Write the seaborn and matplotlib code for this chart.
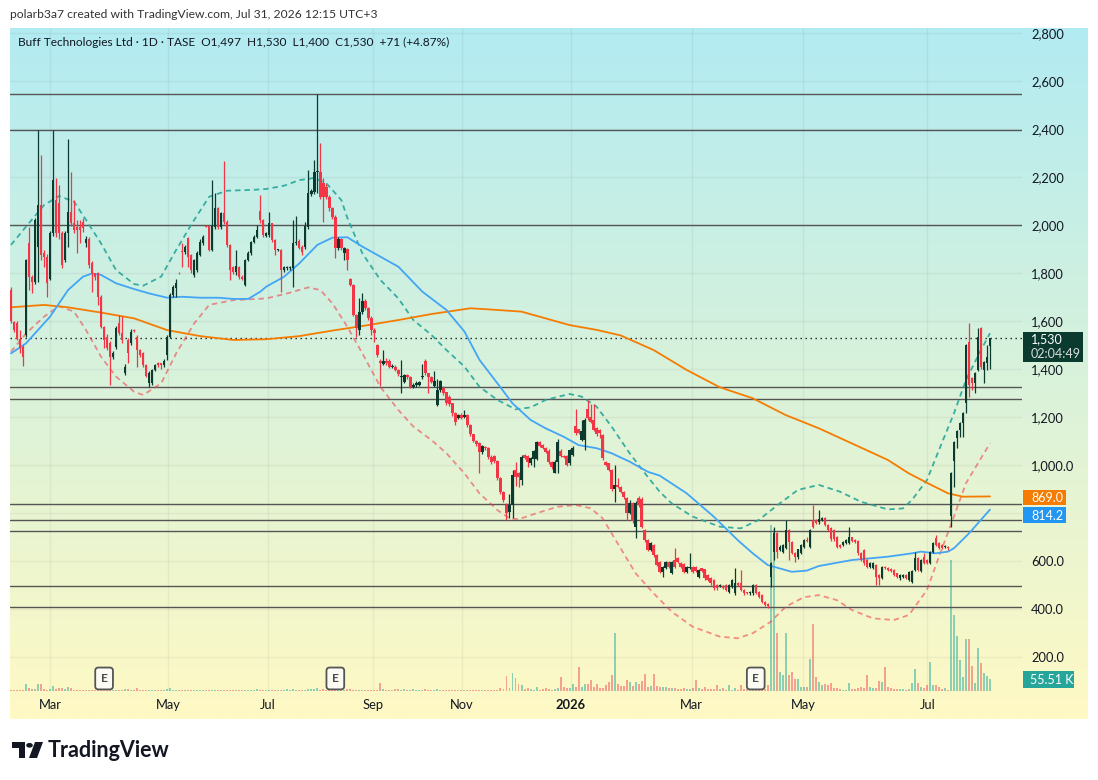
import numpy as np
import matplotlib
matplotlib.use("Agg")
import matplotlib.pyplot as plt
import seaborn as sns
from matplotlib.patches import Rectangle, Circle, Polygon
from matplotlib.transforms import blended_transform_factory

# daily candles, Buff Technologies Ltd (TASE), Feb 2025 - Jul 2026
open_px = [
    1729, 1597, 1590, 1527, 1493, 1541, 1923, 1784, 1764, 1909,
    2083, 1882, 1868, 1777, 1965, 2104, 2090, 1965, 1854, 1965,
    2055, 2007, 1993, 1993, 2014, 1923, 1941, 1840, 1798, 1798,
    1701, 1576, 1535, 1507, 1451, 1493, 1590, 1548, 1382, 1521,
    1507, 1562, 1535, 1479, 1465, 1416, 1343, 1343, 1396, 1423,
    1423, 1416, 1458, 1535, 1708, 1736, 1801, 1891, 1889, 1944,
    1875, 1791, 1812, 1875, 1923, 1996, 1996, 1896, 1993, 2069,
    1990, 2048, 2014, 1917, 1826, 1805, 1826, 1784, 1750, 1854,
    1882, 1930, 1951, 2058, 2020, 1955, 1958, 2007, 1937, 1894,
    1896, 1812, 1819, 1819, 1819, 1923, 1933, 1909, 1909, 1993,
    2129, 2139, 2222, 2222, 2173, 2160, 2118, 2069, 2034, 1903,
    1940, 1882, 1898, 1773, 1750, 1625, 1563, 1639, 1683, 1653,
    1614, 1563, 1500, 1433, 1420, 1433, 1433, 1410, 1410, 1396,
    1368, 1344, 1375, 1368, 1326, 1333, 1333, 1368, 1433, 1382,
    1368, 1331, 1250, 1312, 1322, 1303, 1285, 1257, 1215, 1197,
    1208, 1201, 1208, 1167, 1128, 1101, 1090, 1053, 1073, 1072,
    1035, 1039, 1018, 945, 886, 833, 806, 833, 979, 965,
    938, 1042, 1039, 1007, 1025, 1025, 1095, 1083, 1070, 1060,
    1014, 968, 1011, 1060, 1039, 1039, 1007, 1042, 1164, 1149,
    1104, 1104, 1233, 1201, 1188, 1153, 1146, 1125, 1014, 1007,
    979, 899, 917, 910, 889, 861, 799, 840, 743, 861,
    857, 729, 687, 646, 667, 625, 597, 555, 569, 597,
    549, 604, 611, 590, 586, 555, 569, 576, 576, 535,
    569, 565, 542, 528, 521, 500, 496, 496, 500, 472,
    493, 465, 510, 510, 479, 468, 465, 465, 500, 472,
    458, 430, 421, 535, 636, 715, 646, 639, 653, 729,
    680, 632, 615, 634, 660, 688, 660, 771, 771, 761,
    771, 778, 750, 736, 729, 701, 667, 667, 674, 676,
    698, 687, 685, 632, 646, 604, 576, 569, 583, 541,
    528, 576, 569, 565, 562, 548, 528, 532, 541, 521,
    514, 562, 611, 560, 618, 604, 590, 639, 694, 674,
    667, 657, 660, 787, 1018, 1111, 1146, 1174, 1257, 1514,
    1361, 1340, 1396, 1570, 1396, 1424, 1497,
]
high_px = [
    1740, 1600, 1600, 1562, 1500, 1860, 1993, 1790, 2030, 2395,
    2291, 1895, 1880, 1975, 2395, 2194, 2166, 1975, 1975, 2357,
    2222, 2104, 2020, 2020, 2030, 1955, 1950, 1850, 1800, 1805,
    1710, 1580, 1545, 1515, 1475, 1580, 1625, 1622, 1420, 1530,
    1565, 1565, 1540, 1485, 1470, 1420, 1390, 1400, 1420, 1430,
    1425, 1440, 1540, 1715, 1750, 1777, 1805, 1923, 1915, 1950,
    1880, 1860, 1890, 1940, 1960, 2000, 2000, 2187, 2132, 2075,
    2055, 2267, 2020, 1920, 1830, 1895, 1830, 1790, 1860, 1890,
    1935, 1958, 2000, 2125, 2025, 1970, 2055, 2010, 1940, 1900,
    1900, 1830, 1830, 1830, 2020, 2037, 1940, 1915, 2014, 2229,
    2150, 2271, 2545, 2340, 2194, 2170, 2125, 2075, 2040, 1950,
    1945, 1910, 1905, 1780, 1755, 1630, 1695, 1718, 1690, 1660,
    1620, 1570, 1504, 1440, 1479, 1445, 1440, 1420, 1415, 1400,
    1438, 1380, 1380, 1372, 1340, 1348, 1350, 1420, 1440, 1385,
    1372, 1392, 1360, 1355, 1330, 1305, 1290, 1260, 1220, 1212,
    1215, 1229, 1212, 1170, 1130, 1105, 1095, 1085, 1080, 1075,
    1040, 1042, 1022, 950, 890, 840, 878, 979, 1014, 970,
    1040, 1045, 1042, 1032, 1062, 1100, 1100, 1087, 1075, 1065,
    1018, 1020, 1107, 1065, 1042, 1042, 1066, 1080, 1232, 1152,
    1188, 1195, 1271, 1253, 1253, 1157, 1150, 1128, 1018, 1010,
    982, 999, 947, 913, 893, 865, 854, 845, 850, 870,
    868, 735, 692, 680, 672, 630, 600, 580, 600, 600,
    602, 653, 615, 595, 590, 580, 632, 580, 580, 566,
    572, 568, 545, 532, 525, 505, 505, 500, 505, 505,
    525, 569, 513, 563, 483, 472, 476, 505, 504, 476,
    462, 434, 425, 596, 743, 720, 665, 672, 771, 733,
    684, 636, 652, 672, 692, 701, 734, 833, 775, 812,
    782, 785, 754, 740, 733, 705, 671, 685, 692, 743,
    702, 690, 688, 636, 650, 608, 594, 597, 587, 545,
    580, 580, 573, 569, 566, 552, 545, 545, 545, 560,
    562, 639, 615, 608, 632, 608, 643, 678, 709, 678,
    671, 668, 664, 970, 1100, 1146, 1178, 1220, 1505, 1590,
    1365, 1386, 1570, 1577, 1434, 1500, 1530,
]
low_px = [
    1590, 1555, 1520, 1465, 1412, 1535, 1729, 1715, 1755, 1764,
    1854, 1826, 1701, 1770, 1955, 1950, 1940, 1819, 1845, 1909,
    1995, 1965, 1882, 1923, 1970, 1910, 1820, 1722, 1770, 1666,
    1569, 1486, 1480, 1333, 1440, 1485, 1540, 1510, 1375, 1423,
    1500, 1555, 1409, 1450, 1410, 1365, 1326, 1335, 1390, 1410,
    1402, 1410, 1437, 1530, 1700, 1701, 1795, 1826, 1880, 1826,
    1798, 1785, 1805, 1870, 1915, 1990, 1890, 1890, 1985, 1985,
    1985, 2005, 1910, 1770, 1795, 1791, 1775, 1770, 1745, 1850,
    1875, 1925, 1945, 2010, 1950, 1950, 1950, 1930, 1875, 1890,
    1722, 1805, 1812, 1812, 1743, 1915, 1900, 1875, 1900, 1985,
    2120, 2130, 2135, 2110, 2014, 2110, 2060, 2025, 1861, 1895,
    1895, 1854, 1812, 1745, 1620, 1535, 1542, 1630, 1645, 1605,
    1542, 1514, 1450, 1331, 1415, 1418, 1405, 1405, 1390, 1370,
    1299, 1340, 1360, 1320, 1320, 1326, 1328, 1360, 1375, 1299,
    1340, 1325, 1245, 1305, 1292, 1250, 1245, 1205, 1167, 1190,
    1190, 1195, 1160, 1120, 1095, 1080, 965, 1045, 1062, 1025,
    1005, 1010, 938, 880, 845, 771, 780, 780, 914, 910,
    917, 1025, 993, 1000, 990, 1020, 1075, 1065, 1050, 1005,
    985, 965, 965, 1035, 1028, 995, 1000, 1038, 1125, 1128,
    1100, 1063, 1188, 1175, 1140, 1122, 1111, 1022, 995, 975,
    893, 847, 905, 885, 860, 771, 795, 760, 694, 825,
    738, 680, 640, 640, 618, 578, 548, 535, 565, 570,
    545, 570, 590, 570, 550, 550, 565, 550, 555, 530,
    555, 522, 515, 502, 480, 480, 492, 485, 474, 467,
    488, 460, 495, 474, 460, 462, 460, 460, 463, 447,
    425, 412, 406, 493, 604, 611, 640, 635, 648, 604,
    628, 597, 610, 630, 655, 680, 655, 738, 755, 756,
    767, 745, 724, 685, 685, 655, 655, 662, 670, 672,
    680, 676, 627, 600, 585, 571, 571, 565, 500, 500,
    524, 565, 558, 556, 537, 530, 521, 528, 524, 517,
    510, 558, 558, 556, 586, 586, 586, 635, 662, 649,
    649, 653, 645, 743, 907, 1069, 1118, 1118, 1215, 1285,
    1312, 1299, 1390, 1400, 1340, 1396, 1400,
]
close_px = [
    1600, 1562, 1527, 1486, 1451, 1854, 1784, 1764, 2020, 2083,
    1875, 1868, 1757, 1965, 2187, 1965, 1965, 1833, 1965, 2055,
    2007, 1979, 1979, 1979, 1986, 1941, 1833, 1798, 1784, 1701,
    1576, 1521, 1486, 1451, 1465, 1569, 1548, 1521, 1409, 1465,
    1555, 1559, 1479, 1458, 1416, 1371, 1385, 1396, 1416, 1416,
    1416, 1434, 1535, 1708, 1743, 1757, 1798, 1889, 1909, 1868,
    1812, 1854, 1882, 1930, 1951, 1993, 1896, 1996, 2069, 1993,
    2048, 2014, 1917, 1812, 1805, 1829, 1784, 1777, 1854, 1882,
    1930, 1951, 1979, 2020, 1958, 1965, 2007, 1937, 1896, 1896,
    1812, 1826, 1826, 1826, 1927, 1929, 1905, 1889, 1997, 2132,
    2142, 2222, 2226, 2118, 2118, 2118, 2069, 2034, 1903, 1941,
    1903, 1903, 1854, 1750, 1625, 1569, 1639, 1683, 1653, 1614,
    1563, 1549, 1458, 1424, 1433, 1424, 1410, 1413, 1396, 1378,
    1371, 1375, 1368, 1326, 1333, 1340, 1344, 1371, 1382, 1368,
    1345, 1350, 1312, 1350, 1299, 1257, 1253, 1215, 1178, 1208,
    1197, 1208, 1167, 1128, 1101, 1087, 1053, 1080, 1069, 1035,
    1011, 1018, 945, 886, 854, 799, 833, 958, 951, 951,
    1032, 1031, 1011, 1028, 1058, 1097, 1081, 1070, 1056, 1011,
    990, 1014, 1095, 1039, 1032, 1000, 1062, 1072, 1132, 1132,
    1143, 1188, 1194, 1181, 1146, 1128, 1132, 1028, 1000, 979,
    899, 917, 910, 889, 865, 799, 840, 767, 843, 833,
    743, 687, 646, 674, 625, 583, 555, 576, 597, 576,
    597, 576, 597, 576, 555, 576, 576, 555, 560, 562,
    560, 528, 521, 507, 486, 486, 500, 489, 479, 500,
    521, 510, 500, 479, 465, 465, 472, 500, 468, 451,
    430, 417, 412, 590, 718, 639, 660, 667, 729, 680,
    632, 615, 648, 667, 687, 685, 729, 743, 760, 775,
    778, 750, 729, 690, 690, 660, 660, 681, 687, 698,
    685, 681, 632, 604, 590, 576, 590, 593, 535, 528,
    576, 569, 562, 560, 541, 535, 541, 541, 528, 555,
    558, 611, 562, 604, 590, 590, 639, 674, 667, 653,
    653, 664, 653, 965, 1097, 1142, 1174, 1215, 1500, 1333,
    1341, 1382, 1535, 1410, 1430, 1451, 1530,
]
# volume, thousands of shares
volume_k = [
    3, 3, 3, 3, 3, 31, 15, 8, 9, 31,
    31, 8, 3, 8, 22, 9, 12, 12, 8, 20,
    12, 5, 3, 3, 3, 3, 3, 3, 3, 3,
    6, 3, 3, 4, 3, 3, 3, 3, 11, 8,
    3, 3, 15, 6, 3, 6, 3, 5, 3, 3,
    3, 3, 9, 15, 3, 6, 3, 3, 3, 4,
    3, 3, 3, 3, 4, 3, 3, 3, 3, 3,
    3, 3, 4, 3, 3, 3, 3, 3, 3, 3,
    3, 3, 9, 6, 3, 3, 3, 3, 3, 3,
    3, 3, 8, 3, 9, 3, 3, 3, 3, 8,
    8, 8, 15, 3, 8, 3, 3, 3, 3, 3,
    3, 3, 8, 8, 3, 3, 3, 3, 3, 3,
    3, 3, 3, 35, 11, 6, 3, 3, 8, 8,
    3, 9, 3, 3, 9, 3, 6, 5, 8, 5,
    6, 5, 7, 5, 3, 3, 3, 3, 3, 3,
    3, 3, 3, 3, 3, 3, 3, 3, 3, 3,
    3, 3, 3, 15, 10, 69, 15, 85, 62, 31,
    28, 8, 12, 9, 4, 18, 5, 10, 12, 11,
    5, 8, 13, 64, 19, 13, 13, 32, 19, 112,
    19, 32, 32, 51, 19, 32, 13, 13, 26, 42,
    75, 267, 32, 22, 22, 51, 42, 22, 42, 32,
    48, 80, 19, 22, 80, 22, 19, 19, 19, 13,
    13, 16, 8, 8, 16, 8, 8, 16, 51, 16,
    8, 19, 8, 8, 8, 26, 8, 16, 5, 26,
    5, 16, 5, 29, 8, 8, 8, 8, 8, 8,
    8, 8, 26, 770, 750, 268, 88, 72, 267, 72,
    88, 56, 56, 19, 19, 19, 147, 309, 64, 42,
    26, 32, 26, 35, 13, 13, 8, 5, 5, 35,
    8, 8, 13, 19, 16, 75, 19, 13, 13, 48,
    42, 109, 19, 13, 8, 8, 8, 8, 5, 8,
    35, 104, 35, 19, 13, 26, 133, 26, 26, 19,
    8, 13, 5, 607, 352, 255, 144, 65, 241, 241,
    117, 39, 199, 129, 85, 69, 55.51,
]

# moving averages / envelope (candle index, price)
ma_fast_idx = [0, 5, 13, 19, 24, 27, 30, 35, 41, 46, 52, 57, 63, 69, 74, 79, 83, 85, 91, 96,
               102, 107, 112, 117, 129, 137, 145, 151, 156, 162, 167, 173, 178, 184, 189, 195,
               200, 206, 212, 216, 225, 234, 242, 247, 252, 260, 265, 269, 280, 292, 300, 303,
               308, 312, 314, 319, 326]
ma_fast_val = [1465, 1507, 1618, 1729, 1785, 1798, 1792, 1757, 1733, 1715, 1697, 1701, 1697, 1697,
               1692, 1692, 1722, 1743, 1785, 1840, 1917, 1947, 1949, 1910, 1826, 1722, 1646, 1556,
               1438, 1340, 1257, 1188, 1153, 1118, 1083, 1070, 1049, 1014, 972, 956, 882, 785,
               687, 632, 583, 555, 560, 579, 604, 618, 632, 639, 632, 639, 653, 715, 814]
ma_slow_idx = [0, 11, 19, 30, 41, 52, 63, 74, 85, 96, 107, 117, 129, 140, 153, 162, 170, 178,
               186, 195, 203, 214, 225, 236, 247, 258, 269, 280, 292, 299, 305, 312, 317, 326]
ma_slow_val = [1657, 1667, 1657, 1635, 1611, 1562, 1537, 1521, 1524, 1537, 1560, 1579, 1604,
               1629, 1653, 1646, 1639, 1611, 1583, 1563, 1540, 1479, 1396, 1324, 1278, 1208,
               1153, 1090, 1021, 965, 926, 882, 868, 869]
band_idx_up = [0, 5, 11, 16, 21, 25, 30, 35, 41, 44, 50, 55, 61, 66, 72, 80, 85, 91, 96, 101,
               105, 110, 112, 117, 123, 129, 134, 140, 145, 151, 156, 162, 168, 173, 178, 186,
               190, 195, 200, 206, 212, 216, 220, 227, 236, 243, 249, 256, 262, 269, 276, 283,
               292, 297, 300, 305, 309, 314, 318, 323, 326]
band_upper = [1917, 1993, 2083, 2121, 2097, 2021, 1923, 1812, 1754, 1747, 1785, 1896, 2021, 2118,
              2143, 2146, 2150, 2164, 2187, 2196, 2174, 2104, 2030, 1882, 1771, 1694, 1604, 1542,
              1479, 1410, 1326, 1271, 1232, 1240, 1271, 1296, 1285, 1243, 1160, 1049, 951, 889,
              840, 785, 743, 736, 771, 840, 896, 917, 889, 847, 815, 819, 854, 937, 1062, 1215,
              1354, 1479, 1549]
band_idx_lo = [0, 5, 11, 16, 21, 25, 30, 35, 41, 44, 50, 55, 61, 66, 74, 85, 92, 99, 103, 107,
               112, 117, 123, 129, 134, 140, 145, 151, 156, 162, 166, 169, 175, 182, 188, 193,
               197, 203, 208, 214, 220, 227, 236, 242, 247, 253, 258, 264, 269, 275, 280, 287,
               294, 299, 305, 309, 314, 318, 323, 326]
band_lower = [1472, 1548, 1618, 1662, 1639, 1562, 1451, 1368, 1305, 1292, 1340, 1465, 1590, 1667,
              1687, 1694, 1715, 1740, 1729, 1674, 1576, 1465, 1326, 1229, 1160, 1104, 1049, 965,
              882, 812, 778, 774, 799, 826, 833, 820, 778, 653, 549, 465, 389, 326, 285, 278,
              299, 347, 410, 449, 458, 437, 396, 361, 354, 375, 479, 618, 785, 924, 1028, 1090]

# drawn horizontal levels
levels = [2545, 2395, 2000, 1325, 1274, 837, 771, 725, 496, 408]
earnings_idx = [31, 108, 248]

price_ticks = [2800, 2600, 2400, 2200, 2000, 1800, 1600, 1400, 1200, 1000, 600, 400, 200]
price_tick_labels = ["2,800", "2,600", "2,400", "2,200", "2,000", "1,800", "1,600", "1,400",
                     "1,200", "1,000.0", "600.0", "400.0", "200.0"]
month_pos = [13.0, 52.4, 85.5, 120.6, 150.1, 186.4, 226.7, 263.8, 305.1]
month_labels = ["Mar", "May", "Jul", "Sep", "Nov", "2026", "Mar", "May", "Jul"]

UP = "#0b3a2e"
DOWN = "#f23645"
VOL_UP = "#8dcfb3"
VOL_DOWN = "#f5a18f"

sns.set_style("white")
plt.rcParams["font.family"] = ["Lato", "DejaVu Sans"]

W, H = 1098, 780
fig = plt.figure(figsize=(W / 100, H / 100), dpi=100)


def frac_box(x0, y0, x1, y1):
    return [x0 / W, 1 - y1 / H, (x1 - x0) / W, (y1 - y0) / H]


# gradient background of the chart canvas
bg = fig.add_axes(frac_box(10, 28, 1088, 719), zorder=0)
t = np.linspace(0, 1, 300)[:, None, None]
c_top = np.array(matplotlib.colors.to_rgb("#b2ebf2"))
c_bot = np.array(matplotlib.colors.to_rgb("#fff9c4"))
bg.imshow(c_top + (c_bot - c_top) * t, aspect="auto", extent=[0, 1, 0, 1])
bg.set_axis_off()

o = np.array(open_px, float)
h = np.array(high_px, float)
lo = np.array(low_px, float)
c = np.array(close_px, float)
vol = np.array(volume_k, float)
idx = np.arange(len(c))
up = c >= o

xlim = (-1 / 3.003, 1011 / 3.003)

# volume pane (behind price)
vax = fig.add_axes(frac_box(10, 28, 1022, 691), zorder=1)
vax.patch.set_alpha(0)
vax.bar(idx, vol, width=0.66, color=np.where(up, VOL_UP, VOL_DOWN), linewidth=0)
vax.set_xlim(*xlim)
vax.set_ylim(0, 663 * 4.63)
vax.set_axis_off()

ax = fig.add_axes(frac_box(10, 28, 1022, 691), zorder=2)
ax.patch.set_alpha(0)
ax.set_xlim(*xlim)
ax.set_ylim(58.33, 2820.83)

for gy in range(200, 2801, 200):
    ax.axhline(gy, color="#2a2e39", alpha=0.06, lw=1, zorder=0)
for gx in month_pos:
    ax.axvline(gx, color="#2a2e39", alpha=0.06, lw=1, zorder=0)

for lvl in levels:
    ax.axhline(lvl, color="#555555", lw=1.0, zorder=2)
ax.axhline(close_px[-1], color="#1b1b1b", lw=1.0, ls=(0, (1, 2.6)), zorder=2)

# envelope and moving averages
sns.lineplot(x=band_idx_up, y=band_upper, ax=ax, color="#26a69a", alpha=0.9, linewidth=1.3,
             linestyle=(0, (3.0, 2.2)), zorder=3, sort=False, estimator=None)
sns.lineplot(x=band_idx_lo, y=band_lower, ax=ax, color="#f23645", alpha=0.55, linewidth=1.3,
             linestyle=(0, (3.0, 2.2)), zorder=3, sort=False, estimator=None)
sns.lineplot(x=ma_slow_idx, y=ma_slow_val, ax=ax, color="#f57c00", linewidth=1.3, zorder=3,
             sort=False, estimator=None)
sns.lineplot(x=ma_fast_idx, y=ma_fast_val, ax=ax, color="#42a5f5", linewidth=1.3, zorder=3,
             sort=False, estimator=None)

# candles
cols = np.where(up, UP, DOWN)
ax.vlines(idx, lo, h, colors=cols, lw=0.9, zorder=4)
ax.bar(idx, np.maximum(np.abs(c - o), 4), bottom=np.minimum(o, c), width=0.8,
       color=cols, linewidth=0, zorder=5)

# earnings markers
tr = blended_transform_factory(ax.transData, ax.transAxes)
for e in earnings_idx:
    ax.text(e, 0.0189, "E", transform=tr, ha="center", va="center", fontsize=8.5,
            color="#4a4a4a", zorder=6, fontweight="bold",
            bbox=dict(boxstyle="round,pad=0.46,rounding_size=0.28", fc="#fbfbf3",
                      ec="#555555", lw=1.3))

for sp in ax.spines.values():
    sp.set_visible(False)
ax.grid(False)
ax.yaxis.tick_right()
ax.set_yticks(price_ticks)
ax.set_yticklabels(price_tick_labels)
ax.set_xticks(month_pos)
ax.set_xticklabels(month_labels)
ax.tick_params(axis="y", length=0, pad=6.5, labelsize=9.3, labelcolor="#131722")
ax.tick_params(axis="x", length=0, pad=6, labelsize=9.3, labelcolor="#131722")
ax.get_xticklabels()[5].set_fontweight("bold")
ax.set_xlabel("")
ax.set_ylabel("")


def label_box(x0, y0, x1, y1, color):
    fig.patches.append(Rectangle((x0 / W, 1 - y1 / H), (x1 - x0) / W, (y1 - y0) / H,
                                 transform=fig.transFigure, facecolor=color,
                                 edgecolor="none", zorder=5))


def fig_text(x, y, s, **kw):
    fig.text(x / W, 1 - y / H, s, zorder=6, **kw)


label_box(1023, 332, 1083, 362, "#0b3a2e")
fig_text(1031, 339.5, "1,530", fontsize=9, color="white", va="center")
fig_text(1031, 354, "02:04:49", fontsize=9, color="#d6dcd9", va="center")
label_box(1023, 490, 1066, 505, "#f57c00")
fig_text(1031, 498, "869.0", fontsize=9, color="white", va="center")
label_box(1023, 507, 1066, 523, "#2196f3")
fig_text(1031, 515.5, "814.2", fontsize=9, color="white", va="center")
label_box(1023, 671, 1074, 688, "#26a69a")
fig_text(1030, 679.5, "55.51 K", fontsize=9, color="white", va="center")

# header texts
fig_text(10, 14, "polarb3a7 created with TradingView.com, Jul 31, 2026 12:15 UTC+3",
         fontsize=8.7, color="#333333", va="center")
fig_text(18, 42.5, "Buff Technologies Ltd · 1D · TASE  O1,497  H1,530  L1,400  C1,530  +71 (+4.87%)",
         fontsize=8.6, color="#131722", va="center")

# TradingView logo
def px(x, y):
    return (x / W, 1 - y / H)


logo = "#131722"
fig.patches.append(Polygon([px(12, 742), px(25, 742), px(25, 758), px(18.5, 758),
                            px(18.5, 748), px(12, 748)], closed=True, transform=fig.transFigure,
                           facecolor=logo, edgecolor="none", zorder=5))
fig.patches.append(Circle(px(29.5, 745.3), 3.3 / W, transform=fig.transFigure,
                          facecolor=logo, edgecolor="none", zorder=5))
fig.patches.append(Polygon([px(35, 742), px(43, 742), px(37, 758), px(29, 758)], closed=True,
                           transform=fig.transFigure, facecolor=logo, edgecolor="none", zorder=5))
fig_text(48, 750.5, "TradingView", fontsize=15.5, fontweight="bold", color=logo, va="center")

fig.savefig("out.png", dpi=100)
